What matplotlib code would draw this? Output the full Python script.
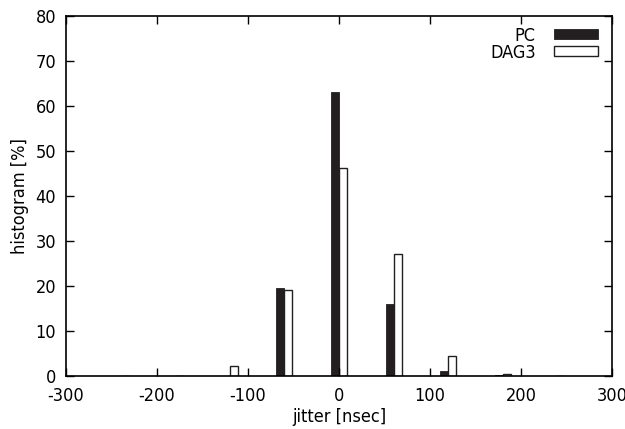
import numpy as np
import matplotlib.pyplot as plt
from matplotlib import font_manager

# jitter bins [nsec] and histogram values [%]
jitter = [-240, -180, -120, -60, 0, 60, 120, 180, 240]
pc = [0.0, 0.0, 0.0, 19.6, 63.1, 16.0, 1.2, 0.2, 0.0]
dag3 = [0.0, 0.0, 2.2, 19.1, 46.3, 27.2, 4.5, 0.5, 0.0]

# narrow font if there is one
fonts = font_manager.fontManager.ttflist
narrow = [f for f in fonts if 'Narrow' in f.name or 'Condensed' in f.name
          or str(f.stretch) in ('condensed', 'semi-condensed', '75', '87')]
stretch = 'normal'
fam = 'DejaVu Sans'
if narrow:
    fam = narrow[0].name
    stretch = narrow[0].stretch
plt.rcParams['font.family'] = [fam, 'DejaVu Sans']
plt.rcParams['font.stretch'] = stretch
plt.rcParams['axes.unicode_minus'] = False

fig = plt.figure(figsize=(6.25, 4.29), dpi=100)
ax = fig.add_axes([0.1056, 0.1235, 0.8736, 0.8392])

x = np.array(jitter, dtype=float)
w = 8.8
ax.bar(x - w / 2, pc, width=w, color='#231f20', edgecolor='#231f20', linewidth=0.6, label='PC')
ax.bar(x + w / 2, dag3, width=w, color='white', edgecolor='#231f20', linewidth=1.0, label='DAG3')

ax.set_xlim(-300, 300)
ax.set_ylim(0, 80)
ax.set_xticks(np.arange(-300, 301, 100))
ax.set_yticks(np.arange(0, 81, 10))
ax.tick_params(direction='in', top=True, right=True, length=5.5, width=1, labelsize=13)
ax.tick_params(axis='x', pad=8)
ax.tick_params(axis='y', pad=7)
for s in ax.spines.values():
    s.set_linewidth(1.2)

ax.set_xlabel('jitter [nsec]', fontsize=13, labelpad=2)
ax.set_ylabel('histogram [%]', fontsize=13, labelpad=5)

ax.legend(loc='upper right', bbox_to_anchor=(0.9568, 0.938), bbox_transform=fig.transFigure,
          frameon=False, markerfirst=False, fontsize=13,
          handlelength=2.45, handleheight=0.5, labelspacing=-0.05,
          borderaxespad=0, borderpad=0, handletextpad=1.0)

fig.savefig('out.png', dpi=100)
